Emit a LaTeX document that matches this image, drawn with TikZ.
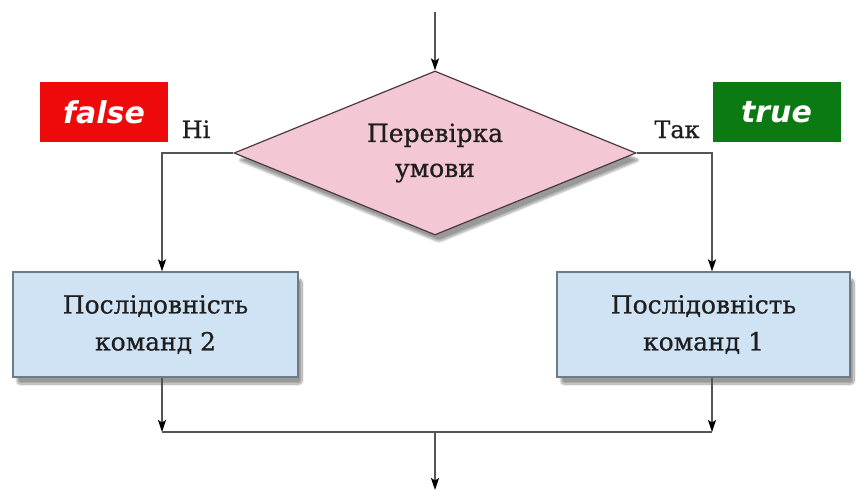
\documentclass[tikz,border=0pt]{standalone}
\usepackage{fontspec}
\setmainfont{DejaVu Serif}[FakeBold=0.7]
\newfontfamily\lblfont{DejaVu Sans}
\usetikzlibrary{shapes.geometric,arrows.meta,shadows.blur}
\definecolor{linec}{HTML}{555555}
\definecolor{dfill}{HTML}{F4C7D5}
\definecolor{dedge}{HTML}{4A3A40}
\definecolor{bfill}{HTML}{CFE3F5}
\definecolor{bedge}{HTML}{6E7A84}
\definecolor{redl}{HTML}{EE0A0A}
\definecolor{greenl}{HTML}{0B7A12}
\definecolor{txt}{HTML}{1E1E1E}
\tikzset{
  arr/.style={draw=linec, line width=1.6pt, -{Stealth[length=12pt,width=8pt,inset=2.5pt,black]}},
  conn/.style={draw=linec, line width=1.6pt},
  decis/.style={diamond, draw=dedge, line width=1.2pt, fill=dfill, inner sep=0pt,
    aspect=2.45, minimum width=402pt, minimum height=164pt,
    blur shadow={shadow xshift=4pt, shadow yshift=-7pt, shadow blur steps=10, shadow blur extra rounding=3pt, shadow opacity=40},
    font=\fontsize{25}{35}\selectfont, text=txt, align=center},
  procbox/.style={rectangle, draw=bedge, line width=1.2pt, fill=bfill, inner sep=0pt,
    minimum height=105pt,
    blur shadow={shadow xshift=4pt, shadow yshift=-7pt, shadow blur steps=10, shadow blur extra rounding=3pt, shadow opacity=40},
    font=\fontsize{25}{37}\selectfont, text=txt, align=center},
  tag/.style={rectangle, inner sep=0pt, minimum width=128pt, minimum height=60pt,
    text=white, font=\lblfont\bfseries\itshape\fontsize{30}{30}\selectfont},
  yn/.style={text=txt, font=\fontsize{24}{24}\selectfont, inner sep=0pt, anchor=base}
}
\begin{document}
\begin{tikzpicture}[x=1pt,y=-1pt]
\useasboundingbox (0,0) rectangle (856,490);
\node[decis] (d) at (435,153) {Перевірка\\умови};
\node[procbox, minimum width=285pt] (b2) at (155.5,324.5) {Послідовність\\команд 2};
\node[procbox, minimum width=293pt] (b1) at (703.5,324.5) {Послідовність\\команд 1};
\node[tag, fill=redl] (f) at (104,112) {false};
\node[tag, fill=greenl] (t) at (776.5,112) {true};
\node[yn] (ni) at (196,138) {Ні};
\node[yn] (tak) at (677,138) {Так};
\coordinate (top) at (435,12);
\coordinate (lx) at (162,153);
\coordinate (rx) at (712,153);
\coordinate (m) at (435,432);
\coordinate (out) at (435,490);
\draw[arr] (top) -- (d.north);
\draw[arr] (d.west) -- (lx) -- (lx |- b2.north);
\draw[arr] (d.east) -- (rx) -- (rx |- b1.north);
\draw[arr] (lx |- b2.south) -- (lx |- m);
\draw[arr] (rx |- b1.south) -- (rx |- m);
\draw[conn] (lx |- m) -- (rx |- m);
\draw[arr] (m) -- (out);
\end{tikzpicture}
\end{document}
